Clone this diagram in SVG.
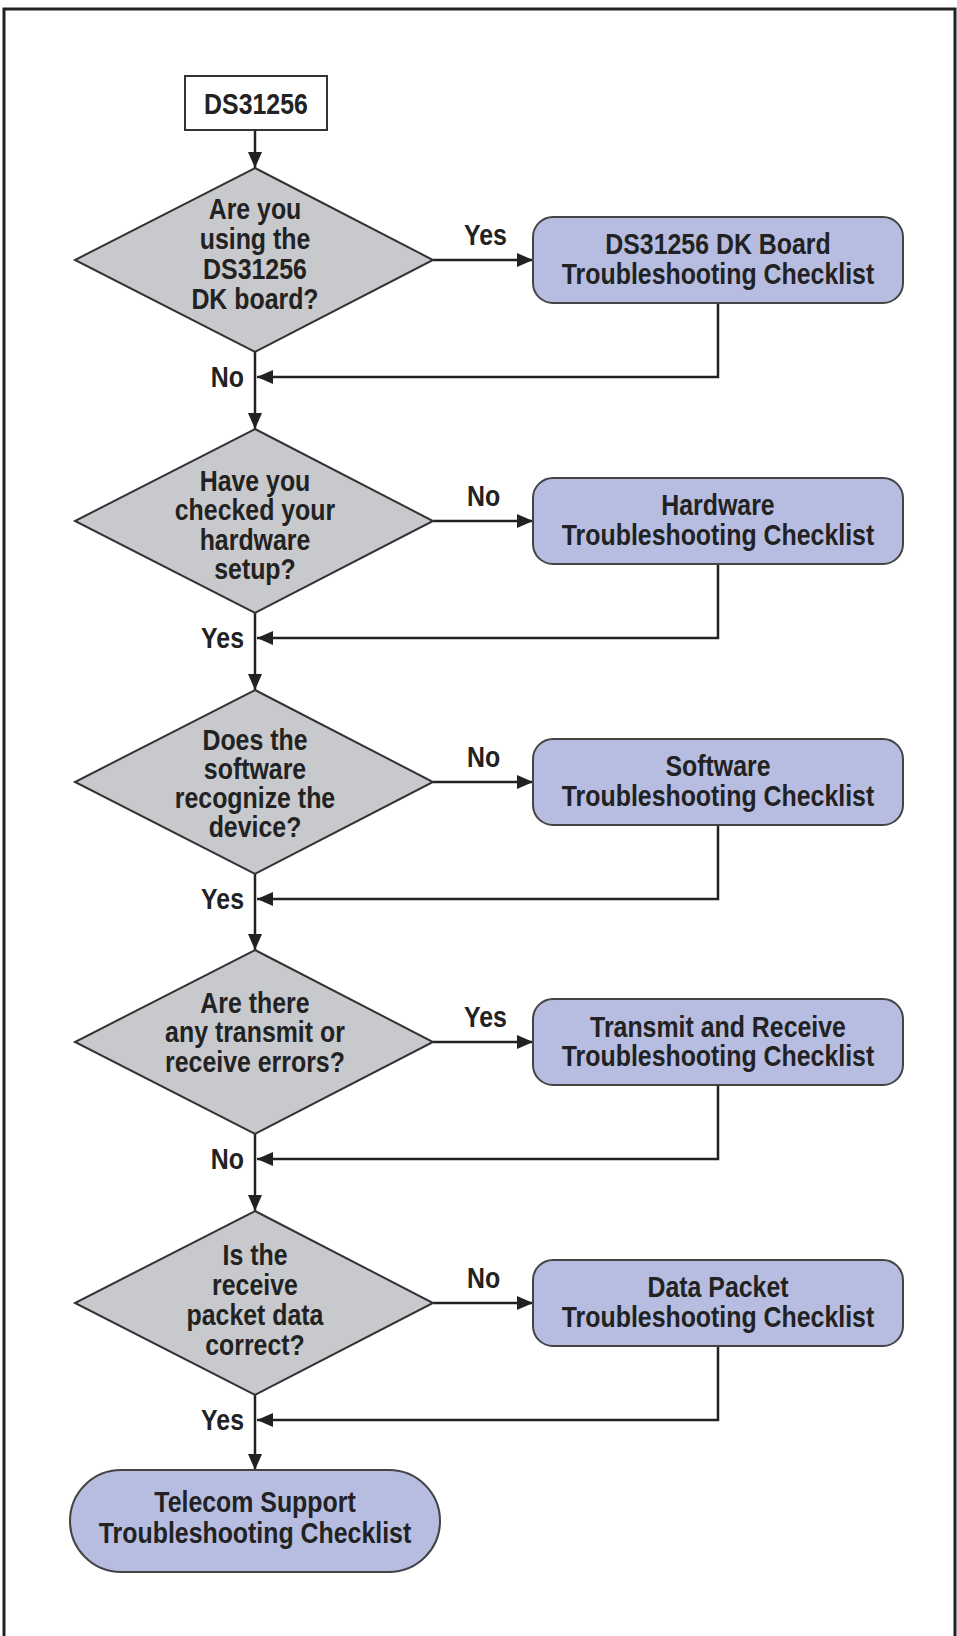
<svg xmlns="http://www.w3.org/2000/svg" width="957" height="1636" viewBox="0 0 957 1636">
<defs>
<style>
text{font-family:"Liberation Sans",Arial,sans-serif;font-weight:bold;font-size:30px;fill:#222;text-anchor:middle}
.lbl{text-anchor:start}
.lblr{text-anchor:end}
.dia{fill:#c8c9cc;stroke:#333;stroke-width:2}
.box{fill:#b7bde0;stroke:#444;stroke-width:2}
.ln{fill:none;stroke:#222;stroke-width:2.5}
</style>
<marker id="a" viewBox="0 0 16 14" refX="16" refY="7" markerWidth="16" markerHeight="14" orient="auto" markerUnits="userSpaceOnUse">
<path d="M0,0 L16,7 L0,14 z" fill="#222"/>
</marker>
</defs>
<rect width="957" height="1636" fill="#fff"/>
<path d="M4,1636 V9 H955 V1636" fill="none" stroke="#222" stroke-width="3"/>

<g id="connectors">
<path class="ln" d="M255,130 V168" marker-end="url(#a)"/>
<path class="ln" d="M255,352 V429" marker-end="url(#a)"/>
<path class="ln" d="M255,613 V690" marker-end="url(#a)"/>
<path class="ln" d="M255,874 V950" marker-end="url(#a)"/>
<path class="ln" d="M255,1134 V1211" marker-end="url(#a)"/>
<path class="ln" d="M255,1395 V1470" marker-end="url(#a)"/>
<path class="ln" d="M433,260 H533" marker-end="url(#a)"/>
<path class="ln" d="M433,521 H533" marker-end="url(#a)"/>
<path class="ln" d="M433,782 H533" marker-end="url(#a)"/>
<path class="ln" d="M433,1042 H533" marker-end="url(#a)"/>
<path class="ln" d="M433,1303 H533" marker-end="url(#a)"/>
<path class="ln" d="M718,303 V377 H257" marker-end="url(#a)"/>
<path class="ln" d="M718,564 V638 H257" marker-end="url(#a)"/>
<path class="ln" d="M718,825 V899 H257" marker-end="url(#a)"/>
<path class="ln" d="M718,1085 V1159 H257" marker-end="url(#a)"/>
<path class="ln" d="M718,1346 V1420 H257" marker-end="url(#a)"/>
<text class="lbl" x="464" y="245" transform="matrix(0.83 0 0 1 78.88 0)">Yes</text>
<text class="lbl" x="467" y="506" transform="matrix(0.83 0 0 1 79.39 0)">No</text>
<text class="lbl" x="467" y="767" transform="matrix(0.83 0 0 1 79.39 0)">No</text>
<text class="lbl" x="464" y="1027" transform="matrix(0.83 0 0 1 78.88 0)">Yes</text>
<text class="lbl" x="467" y="1288" transform="matrix(0.83 0 0 1 79.39 0)">No</text>
<text class="lblr" x="244" y="387" transform="matrix(0.83 0 0 1 41.48 0)">No</text>
<text class="lblr" x="244" y="648" transform="matrix(0.83 0 0 1 41.48 0)">Yes</text>
<text class="lblr" x="244" y="909" transform="matrix(0.83 0 0 1 41.48 0)">Yes</text>
<text class="lblr" x="244" y="1169" transform="matrix(0.83 0 0 1 41.48 0)">No</text>
<text class="lblr" x="244" y="1430" transform="matrix(0.83 0 0 1 41.48 0)">Yes</text>
</g>

<g id="start">
<rect x="185" y="76" width="142" height="54" fill="#fff" stroke="#333" stroke-width="2"/>
<text x="256" y="114" transform="matrix(0.83 0 0 1 43.52 0)">DS31256</text>
</g>

<g id="d1">
<polygon class="dia" points="255,168 433,260 255,352 75,260"/>
<g transform="matrix(0.83 0 0 1 43.35 0)">
<text x="255" y="219">Are you</text>
<text x="255" y="249">using the</text>
<text x="255" y="279">DS31256</text>
<text x="255" y="309">DK board?</text>
</g>
</g>
<g id="b1">
<rect class="box" x="533" y="217" width="370" height="86" rx="20"/>
<g transform="matrix(0.83 0 0 1 122.06 0)">
<text x="718" y="254">DS31256 DK Board</text>
<text x="718" y="284">Troubleshooting Checklist</text>
</g>
</g>

<g id="d2">
<polygon class="dia" points="255,429 433,521 255,613 75,521"/>
<g transform="matrix(0.83 0 0 1 43.35 0)">
<text x="255" y="491">Have you</text>
<text x="255" y="520">checked your</text>
<text x="255" y="550">hardware</text>
<text x="255" y="579">setup?</text>
</g>
</g>
<g id="b2">
<rect class="box" x="533" y="478" width="370" height="86" rx="20"/>
<g transform="matrix(0.83 0 0 1 122.06 0)">
<text x="718" y="515">Hardware</text>
<text x="718" y="545">Troubleshooting Checklist</text>
</g>
</g>

<g id="d3">
<polygon class="dia" points="255,690 433,782 255,874 75,782"/>
<g transform="matrix(0.83 0 0 1 43.35 0)">
<text x="255" y="750">Does the</text>
<text x="255" y="779">software</text>
<text x="255" y="808">recognize the</text>
<text x="255" y="837">device?</text>
</g>
</g>
<g id="b3">
<rect class="box" x="533" y="739" width="370" height="86" rx="20"/>
<g transform="matrix(0.83 0 0 1 122.06 0)">
<text x="718" y="776">Software</text>
<text x="718" y="806">Troubleshooting Checklist</text>
</g>
</g>

<g id="d4">
<polygon class="dia" points="255,950 433,1042 255,1134 75,1042"/>
<g transform="matrix(0.83 0 0 1 43.35 0)">
<text x="255" y="1013">Are there</text>
<text x="255" y="1042">any transmit or</text>
<text x="255" y="1072">receive errors?</text>
</g>
</g>
<g id="b4">
<rect class="box" x="533" y="999" width="370" height="86" rx="20"/>
<g transform="matrix(0.83 0 0 1 122.06 0)">
<text x="718" y="1037">Transmit and Receive</text>
<text x="718" y="1066">Troubleshooting Checklist</text>
</g>
</g>

<g id="d5">
<polygon class="dia" points="255,1211 433,1303 255,1395 75,1303"/>
<g transform="matrix(0.83 0 0 1 43.35 0)">
<text x="255" y="1265">Is the</text>
<text x="255" y="1295">receive</text>
<text x="255" y="1325">packet data</text>
<text x="255" y="1355">correct?</text>
</g>
</g>
<g id="b5">
<rect class="box" x="533" y="1260" width="370" height="86" rx="20"/>
<g transform="matrix(0.83 0 0 1 122.06 0)">
<text x="718" y="1297">Data Packet</text>
<text x="718" y="1327">Troubleshooting Checklist</text>
</g>
</g>

<g id="end">
<rect class="box" x="70" y="1470" width="370" height="102" rx="51"/>
<g transform="matrix(0.83 0 0 1 43.35 0)">
<text x="255" y="1512">Telecom Support</text>
<text x="255" y="1543">Troubleshooting Checklist</text>
</g>
</g>
</svg>
